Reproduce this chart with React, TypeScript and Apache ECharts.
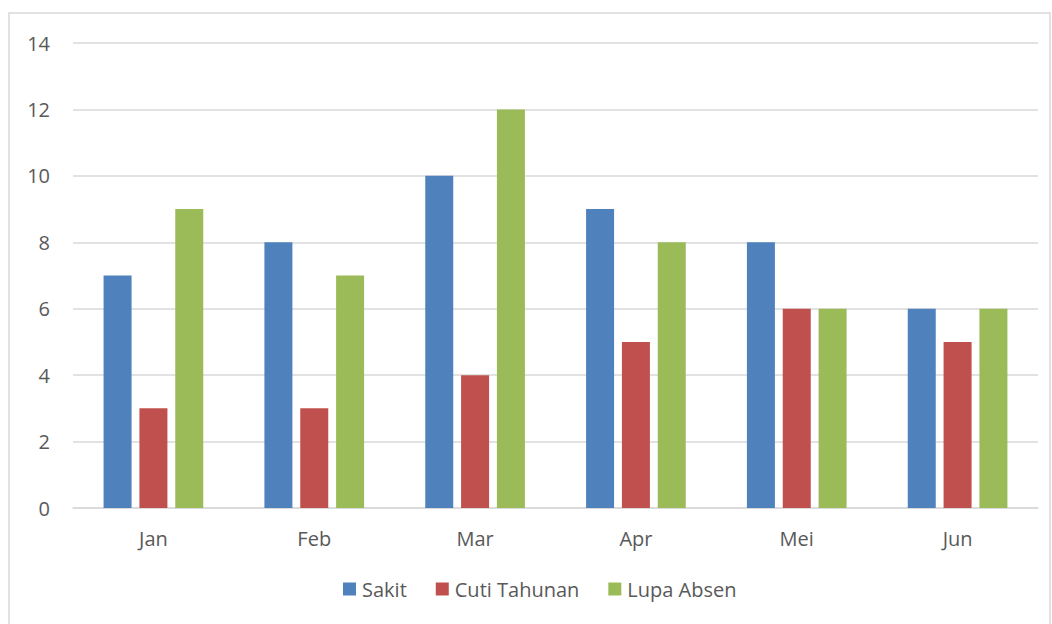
import React, { useEffect, useRef } from "react";
import * as echarts from "echarts";

const categories = ["Jan", "Feb", "Mar", "Apr", "Mei", "Jun"];
const sakit = [7, 8, 10, 9, 8, 6];
const cutiTahunan = [3, 3, 4, 5, 6, 5];
const lupaAbsen = [9, 7, 12, 8, 6, 6];
const seriesNames = ["Sakit", "Cuti Tahunan", "Lupa Absen"];
const colors = ["#4F81BD", "#C0504D", "#9BBB59"];

export default function App() {
  const ref = useRef<HTMLDivElement>(null);
  useEffect(() => {
    document.body.style.margin = "0";
    const chart = echarts.init(ref.current!, undefined, { renderer: "svg" });
    const font = "'Open Sans', 'Liberation Sans', sans-serif";
    const data = [sakit, cutiTahunan, lupaAbsen];
    chart.setOption({
      animation: false,
      color: colors,
      textStyle: { fontFamily: font },
      graphic: [
        {
          type: "rect",
          shape: { x: 9, y: 13, width: 1041, height: 640 },
          style: { fill: "none", stroke: "#d9d9d9", lineWidth: 1.5 },
          silent: true,
        },
      ],
      grid: { left: 73, right: 14, top: 43, bottom: 116 },
      legend: {
        bottom: 20,
        left: 338,
        itemWidth: 13,
        itemHeight: 13,
        itemGap: 29,
        icon: "rect",
        textStyle: { color: "#595959", fontSize: 20, fontFamily: font, padding: [0, 0, 0, 1] },
        data: seriesNames,
      },
      xAxis: {
        type: "category",
        data: categories,
        axisLine: { lineStyle: { color: "#d9d9d9", width: 1.5 } },
        axisTick: { show: false },
        axisLabel: { color: "#595959", fontSize: 20, margin: 20, fontFamily: font },
      },
      yAxis: {
        type: "value",
        min: 0,
        max: 14,
        interval: 2,
        axisLine: { show: false },
        axisTick: { show: false },
        axisLabel: { color: "#595959", fontSize: 20, margin: 23, fontFamily: font },
        splitLine: { lineStyle: { color: "#d9d9d9", width: 1.5 } },
      },
      series: seriesNames.map((name, i) => ({
        name,
        type: "bar",
        data: data[i],
        barWidth: 28,
        barGap: "28%",
        itemStyle: { color: colors[i] },
      })),
    });
    return () => chart.dispose();
  }, []);
  return <div ref={ref} style={{ width: 1052, height: 624 }} />;
}
